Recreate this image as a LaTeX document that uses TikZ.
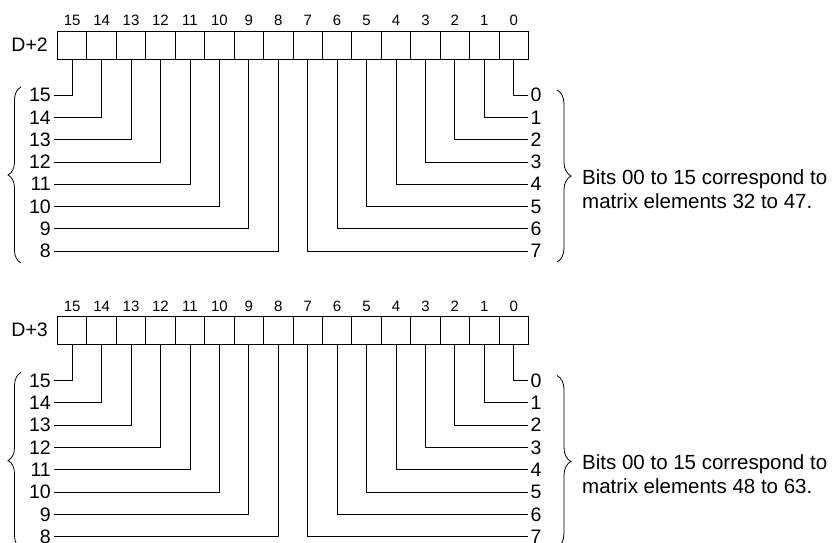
\documentclass[tikz,border=0pt]{standalone}
\usepackage{fontspec}
\setmainfont{Liberation Sans}
\usetikzlibrary{decorations.pathreplacing}

\begin{document}
\begin{tikzpicture}[x=1pt,y=-1pt,
  bitcell/.style={draw,line width=0.9pt,minimum width=29.44pt,minimum height=28pt,inner sep=0pt,anchor=north west},
  bitnum/.style={font=\fontsize{15}{17}\selectfont,inner sep=0pt,anchor=base},
  rowlbl/.style={font=\fontsize{19.5}{22}\selectfont,inner sep=2.5pt},
  wire/.style={line width=0.8pt},
  grp/.style={decorate,decoration={brace,amplitude=#1},line width=0.8pt},
  note/.style={font=\fontsize{20.5}{24.3}\selectfont,align=left,anchor=north west,inner sep=0pt}]
\clip (0,0) rectangle (833,542);
\foreach \b/\oy/\reg/\lo/\hi in {a/0/D+2/32/47, b/285.5/D+3/48/63}{
\begin{scope}[shift={(0,\oy)}]
% register word and its bit cells
\node[rowlbl,anchor=east] (\b-reg) at (50.5,44.5) {\reg};
\foreach \i in {0,...,15}{
  \node[bitcell] (\b-c\i) at ({57+(15-\i)*29.44},30.5) {};
  \node[bitnum] (\b-n\i) at ([yshift=4.8pt]\b-c\i.north) {\i};
}
% bits 15..8 to the left
\foreach \i in {8,...,15}{
  \node[rowlbl,anchor=east] (\b-l\i) at (53.5,{95+(15-\i)*22.3}) {\i};
  \draw[wire] (\b-c\i.south) |- (\b-l\i.east);
}
% bits 0..7 to the right
\foreach \i in {0,...,7}{
  \node[rowlbl,anchor=west] (\b-r\i) at (528,{95+\i*22.3}) {\i};
  \draw[wire] (\b-c\i.south) |- (\b-r\i.west);
}
\draw[grp=13pt] (21,263) -- (21,87);
\draw[grp=14pt] (557,90) -- (557,262);
\node[note] (\b-note) at (582,169) {Bits 00 to 15 correspond to\\matrix elements \lo{} to \hi.};
\end{scope}
}
\end{tikzpicture}
\end{document}
